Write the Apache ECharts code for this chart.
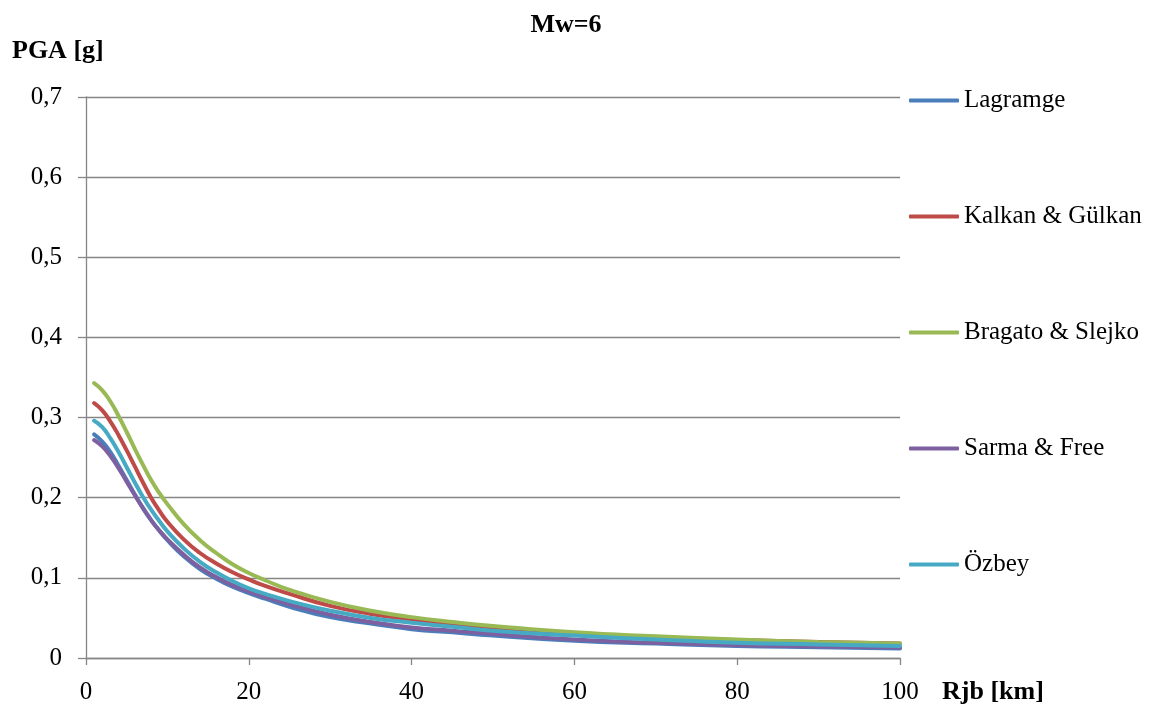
<!DOCTYPE html>
<html>
<head>
<meta charset="utf-8">
<script src="https://cdn.jsdelivr.net/npm/echarts@6/dist/echarts.min.js"></script>
<style>
  html, body { margin: 0; padding: 0; background: #fff; }
  #chart { width: 1154px; height: 706px; }
</style>
</head>
<body>
<div id="chart"></div>
<script>
// Distance Rjb [km]
const distances = [1, 2, 3, 4, 5, 6, 7, 8, 9, 10, 12, 14, 16, 18, 20, 22, 25, 30, 35, 40, 45, 50, 60, 70, 80, 90, 100];

// PGA [g] per attenuation model, Mw = 6
const lagramge = [0.279, 0.270, 0.257, 0.240, 0.222, 0.204, 0.187, 0.172, 0.159, 0.147, 0.127, 0.111, 0.099, 0.089, 0.081, 0.074, 0.064, 0.051, 0.043, 0.036, 0.032, 0.028, 0.0215, 0.018, 0.015, 0.0135, 0.012];
const kalkanGulkan = [0.318, 0.309, 0.295, 0.278, 0.259, 0.239, 0.219, 0.200, 0.184, 0.170, 0.148, 0.131, 0.118, 0.107, 0.098, 0.090, 0.080, 0.065, 0.055, 0.048, 0.042, 0.038, 0.031, 0.026, 0.0225, 0.020, 0.018];
const bragatoSlejko = [0.343, 0.334, 0.320, 0.302, 0.282, 0.261, 0.241, 0.222, 0.206, 0.192, 0.167, 0.147, 0.131, 0.117, 0.106, 0.097, 0.085, 0.070, 0.059, 0.051, 0.045, 0.040, 0.032, 0.027, 0.023, 0.020, 0.018];
const sarmaFree = [0.272, 0.264, 0.252, 0.237, 0.220, 0.203, 0.187, 0.172, 0.159, 0.148, 0.129, 0.113, 0.101, 0.091, 0.083, 0.076, 0.067, 0.054, 0.045, 0.038, 0.034, 0.030, 0.023, 0.019, 0.016, 0.0145, 0.013];
const ozbey = [0.296, 0.288, 0.274, 0.257, 0.238, 0.219, 0.201, 0.185, 0.171, 0.158, 0.137, 0.120, 0.107, 0.096, 0.087, 0.080, 0.071, 0.059, 0.050, 0.044, 0.039, 0.034, 0.028, 0.023, 0.019, 0.017, 0.015];

const seriesNames = ['Lagramge', 'Kalkan & Gülkan', 'Bragato & Slejko', 'Sarma & Free', 'Özbey'];
const seriesValues = [lagramge, kalkanGulkan, bragatoSlejko, sarmaFree, ozbey];
const seriesColors = ['#4A7EBB', '#BE4B48', '#98B954', '#7D60A0', '#46AAC5'];

const xTicks = { min: 0, max: 100, step: 20 };
const yTicks = { min: 0, max: 0.7, step: 0.1 };

const FONT = "'Liberation Serif', 'Times New Roman', serif";
const GRAY = '#868686';

const chart = echarts.init(document.getElementById('chart'), null, { renderer: 'canvas' });

const series = seriesNames.map((name, i) => ({
  name: name,
  type: 'line',
  data: distances.map((d, j) => [d, seriesValues[i][j]]),
  smooth: true,
  symbol: 'none',
  lineStyle: { color: seriesColors[i], width: 4, cap: 'round', join: 'round' },
  itemStyle: { color: seriesColors[i] },
  emphasis: { disabled: true },
  z: 2 + i
}));

chart.setOption({
  animation: false,
  backgroundColor: '#ffffff',
  grid: { left: 86, right: 254, top: 97, bottom: 48, containLabel: false },
  xAxis: {
    type: 'value',
    min: xTicks.min, max: xTicks.max, interval: xTicks.step,
    axisLine: { show: true, lineStyle: { color: GRAY, width: 1.3 } },
    axisTick: { show: true, length: 7, inside: false, lineStyle: { color: GRAY, width: 1.3 } },
    splitLine: { show: false },
    axisLabel: { margin: 22, color: '#000', fontFamily: FONT, fontSize: 25 }
  },
  yAxis: {
    type: 'value',
    min: yTicks.min, max: yTicks.max, interval: yTicks.step,
    axisLine: { show: true, lineStyle: { color: GRAY, width: 1.3 } },
    axisTick: { show: true, length: 8, inside: false, lineStyle: { color: GRAY, width: 1.3 } },
    splitLine: { show: true, lineStyle: { color: GRAY, width: 1.3 } },
    axisLabel: {
      margin: 24, color: '#000', fontFamily: FONT, fontSize: 25,
      formatter: v => (Math.round(v * 10) / 10).toString().replace('.', ',')
    }
  },
  legend: {
    orient: 'vertical',
    left: 904, top: 83,
    icon: 'roundRect',
    itemWidth: 50, itemHeight: 4,
    itemGap: 91,
    selectedMode: false,
    data: seriesNames,
    textStyle: { color: '#000', fontFamily: FONT, fontSize: 25, lineHeight: 25 }
  },
  graphic: [
    { type: 'text', style: { text: 'Mw=6', x: 566, y: 25, textAlign: 'center', textVerticalAlign: 'middle', font: 'bold 26px ' + FONT, fill: '#000' } },
    { type: 'text', style: { text: 'PGA [g]', x: 12, y: 51, textAlign: 'left', textVerticalAlign: 'middle', font: 'bold 26px ' + FONT, fill: '#000' } },
    { type: 'text', style: { text: 'Rjb [km]', x: 942, y: 692, textAlign: 'left', textVerticalAlign: 'middle', font: 'bold 26px ' + FONT, fill: '#000' } }
  ],
  series: series
});
</script>
</body>
</html>
